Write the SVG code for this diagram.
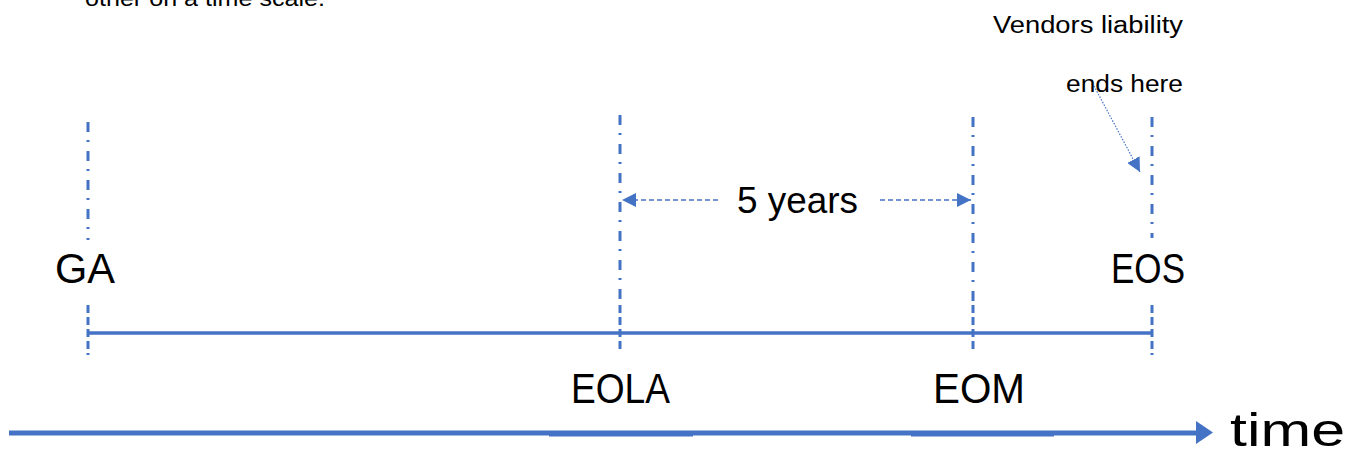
<svg xmlns="http://www.w3.org/2000/svg" width="1361" height="456" viewBox="0 0 1361 456">
<defs>
<style>
.t{font-family:"Liberation Sans","Open Sans",sans-serif;fill:#000}
.vl{stroke:#4472C4;stroke-width:3;fill:none;stroke-dasharray:10 8 2 9}
.vd{stroke:#4472C4;stroke-width:3;fill:none;stroke-dasharray:8 4}
.dim{stroke:#4472C4;stroke-width:1.5;fill:none;stroke-dasharray:5 3}
</style>
<marker id="ah" viewBox="0 0 10 10" refX="10" refY="5" markerWidth="14" markerHeight="14" markerUnits="userSpaceOnUse" orient="auto"><path d="M0,0 L10,5 L0,10 z" fill="#4472C4"/></marker>
</defs>
<rect width="1361" height="456" fill="#fff"/>
<text class="t" x="85" y="6" font-size="22" textLength="240" lengthAdjust="spacingAndGlyphs">other on a time scale.</text>
<g id="connectors">
<path class="vl" d="M88,122 V240"/>
<path class="vd" d="M88,305 V355"/>
<path class="vl" d="M620,115 V305"/>
<path class="vd" d="M620,305 V352"/>
<path class="vl" d="M973,117 V305"/>
<path class="vd" d="M973,305 V352"/>
<path class="vl" d="M1152,117 V238"/>
<path class="vd" d="M1152,305 V355"/>
<path d="M88,333 H1152" stroke="#4472C4" stroke-width="3.5" fill="none"/>
<path class="dim" d="M718,200 H622" marker-end="url(#ah)"/>
<path class="dim" d="M880,200 H971" marker-end="url(#ah)"/>
<path d="M1094,86 L1140,172" stroke="#4472C4" stroke-width="1.2" stroke-dasharray="1.5 1.5" fill="none" marker-end="url(#ah)"/>
<path d="M9,433 H1200" stroke="#4472C4" stroke-width="5" fill="none"/>
<path d="M549,434 H693 M911,434 H1054" stroke="#4472C4" stroke-width="5" fill="none"/>
<path d="M1196,421 L1213,432.5 L1196,444 z" fill="#4472C4"/>
</g>
<g id="GA"><text class="t" x="55" y="283" font-size="43" textLength="60" lengthAdjust="spacingAndGlyphs">GA</text></g>
<g id="EOLA"><text class="t" x="571" y="403" font-size="43" textLength="99" lengthAdjust="spacingAndGlyphs">EOLA</text></g>
<g id="EOM"><text class="t" x="933" y="403" font-size="43" textLength="92" lengthAdjust="spacingAndGlyphs">EOM</text></g>
<g id="EOS"><text class="t" x="1111" y="283" font-size="43" textLength="74" lengthAdjust="spacingAndGlyphs">EOS</text></g>
<g id="five-years"><text class="t" x="737" y="213" font-size="37" textLength="121" lengthAdjust="spacingAndGlyphs">5 years</text></g>
<g id="vendors-note">
<text class="t" x="993" y="33" font-size="23" textLength="190" lengthAdjust="spacingAndGlyphs">Vendors liability</text>
<text class="t" x="1066" y="92" font-size="23" textLength="117" lengthAdjust="spacingAndGlyphs">ends here</text>
</g>
<g id="time"><text class="t" x="1230" y="446" font-size="46" textLength="115" lengthAdjust="spacingAndGlyphs">time</text></g>
</svg>
